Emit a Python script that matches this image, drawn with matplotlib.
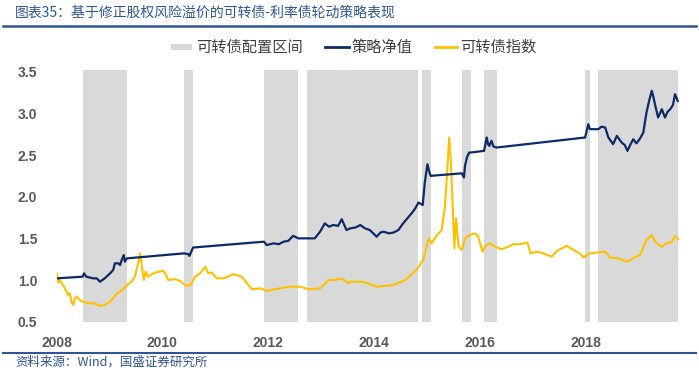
import matplotlib
matplotlib.use("Agg")
import matplotlib.pyplot as plt
from matplotlib.patches import Rectangle
from matplotlib.lines import Line2D

plt.rcParams['font.family'] = ['Noto Sans CJK SC', 'DejaVu Sans']

# ---------------- data (decimal years) ----------------
band_start = [2008.49, 2010.41, 2011.92, 2012.73, 2014.91, 2015.66, 2016.08, 2017.99, 2018.24]
band_end   = [2009.33, 2010.57, 2012.57, 2014.84, 2015.07, 2015.83, 2016.32, 2018.08, 2019.74]

strat_t = [2008.00, 2008.49, 2008.52, 2008.56, 2008.63, 2008.69, 2008.76, 2008.82, 2008.91,
           2009.01, 2009.07, 2009.10, 2009.17, 2009.20, 2009.23, 2009.27, 2009.29, 2009.33,
           2010.41, 2010.49, 2010.51, 2010.58,
           2011.92, 2011.97, 2012.10, 2012.20, 2012.29, 2012.38, 2012.47, 2012.57, 2012.73,
           2012.88, 2012.98, 2013.07, 2013.15, 2013.23, 2013.32, 2013.39, 2013.48, 2013.55,
           2013.65, 2013.74, 2013.83, 2013.92, 2014.05, 2014.12, 2014.18, 2014.28, 2014.37,
           2014.46, 2014.55, 2014.63, 2014.71, 2014.78, 2014.84, 2014.92, 2014.96, 2015.01,
           2015.04, 2015.07, 2015.66, 2015.70, 2015.72, 2015.76, 2015.80, 2015.83, 2016.08,
           2016.13, 2016.16, 2016.18, 2016.22, 2016.26, 2016.32, 2017.99, 2018.05, 2018.08,
           2018.24, 2018.30, 2018.37, 2018.43, 2018.52, 2018.59, 2018.68, 2018.74, 2018.79,
           2018.85, 2018.90, 2018.96, 2019.03, 2019.09, 2019.15, 2019.20, 2019.25, 2019.28,
           2019.31, 2019.37, 2019.44, 2019.50, 2019.55, 2019.60, 2019.65, 2019.69, 2019.74]
strat_v = [1.02, 1.04, 1.08, 1.04, 1.03, 1.02, 1.02, 0.98, 1.02,
           1.08, 1.12, 1.20, 1.20, 1.18, 1.24, 1.30, 1.22, 1.26,
           1.32, 1.31, 1.29, 1.39,
           1.46, 1.42, 1.44, 1.43, 1.46, 1.47, 1.53, 1.50, 1.50,
           1.50, 1.58, 1.68, 1.64, 1.66, 1.65, 1.73, 1.60, 1.62,
           1.63, 1.66, 1.62, 1.60, 1.52, 1.57, 1.58, 1.56, 1.57,
           1.60, 1.68, 1.74, 1.80, 1.86, 1.93, 1.90, 2.17, 2.39,
           2.31, 2.25, 2.28, 2.23, 2.37, 2.48, 2.53, 2.53, 2.55,
           2.71, 2.62, 2.61, 2.67, 2.60, 2.59, 2.71, 2.87, 2.81,
           2.81, 2.84, 2.83, 2.71, 2.63, 2.73, 2.65, 2.62, 2.55,
           2.63, 2.69, 2.64, 2.70, 2.77, 3.01, 3.15, 3.27, 3.20,
           3.11, 2.95, 3.05, 2.95, 3.02, 3.05, 3.10, 3.23, 3.15]

cb_t = [2008.00, 2008.01, 2008.03, 2008.06, 2008.14, 2008.22, 2008.25, 2008.28, 2008.32,
        2008.34, 2008.38, 2008.44, 2008.50, 2008.63, 2008.72, 2008.82, 2008.90, 2009.01,
        2009.14, 2009.24, 2009.33, 2009.42, 2009.48, 2009.54, 2009.58, 2009.63, 2009.65,
        2009.68, 2009.73, 2009.83, 2009.92, 2010.02, 2010.07, 2010.11, 2010.24, 2010.33,
        2010.45, 2010.53, 2010.62, 2010.71, 2010.81, 2010.87, 2010.93, 2011.03, 2011.16,
        2011.34, 2011.50, 2011.60, 2011.69, 2011.85, 2011.97, 2012.22, 2012.41, 2012.60,
        2012.76, 2012.98, 2013.14, 2013.26, 2013.39, 2013.52, 2013.55, 2013.80, 2014.05,
        2014.36, 2014.59, 2014.80, 2014.93, 2015.03, 2015.09, 2015.19, 2015.28, 2015.34,
        2015.39, 2015.42, 2015.45, 2015.49, 2015.52, 2015.55, 2015.60, 2015.66, 2015.72,
        2015.81, 2015.91, 2015.97, 2016.05, 2016.12, 2016.19, 2016.29, 2016.41, 2016.54,
        2016.63, 2016.76, 2016.90, 2016.96, 2017.08, 2017.20, 2017.36, 2017.46, 2017.64,
        2017.77, 2017.89, 2017.96, 2018.07, 2018.21, 2018.37, 2018.46, 2018.62, 2018.78,
        2018.90, 2019.03, 2019.15, 2019.25, 2019.34, 2019.44, 2019.53, 2019.63, 2019.69,
        2019.75]
cb_v = [1.02, 1.08, 0.97, 1.00, 0.92, 0.82, 0.84, 0.74, 0.70,
        0.78, 0.80, 0.76, 0.74, 0.72, 0.72, 0.69, 0.70, 0.74,
        0.84, 0.88, 0.94, 0.98, 1.04, 1.20, 1.32, 1.08, 1.00,
        1.10, 1.04, 1.08, 1.10, 1.11, 1.06, 1.00, 1.01, 0.99,
        0.93, 0.94, 1.04, 1.08, 1.16, 1.08, 1.09, 1.02, 1.02,
        1.07, 1.04, 0.96, 0.89, 0.90, 0.87, 0.90, 0.92, 0.92,
        0.89, 0.90, 1.00, 1.00, 1.02, 0.96, 0.98, 0.98, 0.92,
        0.94, 1.00, 1.12, 1.24, 1.50, 1.44, 1.54, 1.60, 1.88,
        2.37, 2.71, 2.45, 1.84, 1.38, 1.74, 1.40, 1.36, 1.50,
        1.54, 1.56, 1.52, 1.34, 1.42, 1.44, 1.40, 1.37, 1.40,
        1.43, 1.43, 1.45, 1.32, 1.34, 1.32, 1.28, 1.35, 1.41,
        1.36, 1.32, 1.27, 1.32, 1.33, 1.34, 1.27, 1.26, 1.22,
        1.26, 1.30, 1.48, 1.54, 1.44, 1.40, 1.44, 1.46, 1.53,
        1.49]

x_ticks = [2008, 2010, 2012, 2014, 2016, 2018]
y_ticks = [0.5, 1.0, 1.5, 2.0, 2.5, 3.0, 3.5]

title_text = "图表35：基于修正股权风险溢价的可转债-利率债轮动策略表现"
source_text = "资料来源：Wind，国盛证券研究所"
legend_labels = ["可转债配置区间", "策略净值", "可转债指数"]

# ---------------- style ----------------
W, H = 699, 375
NAVY = "#0d2a68"
GOLD = "#ffc000"
BAND = "#d9d9d9"
BLUE_TXT = "#2f5597"
TICK_C = "#595959"

fig = plt.figure(figsize=(W / 100, H / 100), dpi=100)

def fx(px):
    return px / W

def fy(py):
    return 1 - py / H

ax = fig.add_axes([fx(56.6), fy(321.7), fx(679.8) - fx(56.6), fy(70) - fy(321.7)])
for s, e in zip(band_start, band_end):
    ax.axvspan(s, e, color=BAND, lw=0, zorder=0)
ax.plot(cb_t, cb_v, color=GOLD, lw=1.5, zorder=2)
ax.plot(strat_t, strat_v, color=NAVY, lw=1.6, zorder=3)

ax.set_xlim(2008.0, 2019.78)
ax.set_ylim(0.5, 3.52)
ax.set_xticks(x_ticks)
ax.set_xticklabels([str(t) for t in x_ticks])
ax.set_yticks(y_ticks)
ax.set_yticklabels([f"{v:.1f}" for v in y_ticks])
for sp in ax.spines.values():
    sp.set_visible(False)
ax.tick_params(axis='both', length=0, colors=TICK_C)
ax.tick_params(axis='y', pad=14)
ax.tick_params(axis='x', pad=10)
for lab in ax.get_xticklabels() + ax.get_yticklabels():
    lab.set_fontfamily(['Liberation Sans', 'DejaVu Sans'])
    lab.set_fontweight('bold')
    lab.set_fontsize(10)
    lab.set_color(TICK_C)

# title & source
fig.text(fx(15), fy(12.7), title_text, fontsize=10, color=BLUE_TXT, va='center', ha='left')
fig.add_artist(Line2D([fx(3), fx(696)], [fy(26), fy(26)], color="#2f5597", lw=1.8))
fig.add_artist(Line2D([fx(3), fx(696)], [fy(352.7), fy(352.7)], color="#2f5597", lw=1.5))
fig.text(fx(15), fy(362), source_text, fontsize=9, color=BLUE_TXT, va='center', ha='left')

# legend
ly = 47
fig.add_artist(Rectangle((fx(171), fy(ly + 3)), fx(192) - fx(171), fy(ly - 3) - fy(ly + 3),
                         facecolor=BAND, edgecolor='none'))
fig.text(fx(196), fy(ly), legend_labels[0], fontsize=11, color="#404040", va='center', ha='left')
fig.add_artist(Line2D([fx(325), fx(349)], [fy(ly), fy(ly)], color=NAVY, lw=2))
fig.text(fx(352), fy(ly), legend_labels[1], fontsize=11, color="#404040", va='center', ha='left')
fig.add_artist(Line2D([fx(435), fx(457)], [fy(ly), fy(ly)], color=GOLD, lw=2))
fig.text(fx(460), fy(ly), legend_labels[2], fontsize=11, color="#404040", va='center', ha='left')

fig.savefig("out.png", dpi=100)
